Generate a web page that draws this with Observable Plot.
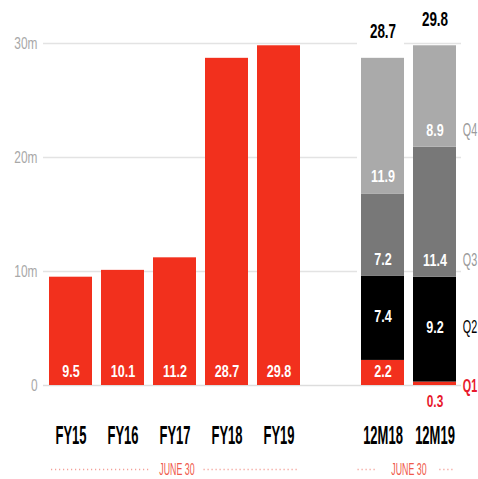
<!DOCTYPE html>
<html>
<head>
<meta charset="utf-8">
<script src="https://cdn.jsdelivr.net/npm/d3@7"></script>
<script src="https://cdn.jsdelivr.net/npm/@observablehq/plot@0.6"></script>
<style>
  html, body { margin: 0; padding: 0; background: #fff; }
  svg text { font-family: "Liberation Sans", Arial, sans-serif; }
</style>
</head>
<body>
<div id="chart"></div>
<script>
// Annual totals (financial year ending June 30), millions
const years = ["FY15", "FY16", "FY17", "FY18", "FY19"];
const yearValues = [9.5, 10.1, 11.2, 28.7, 29.8];

// Twelve-month periods split by quarter, millions
const periods = ["12M18", "12M19"];
const quarters = ["Q1", "Q2", "Q3", "Q4"];
const q1 = [2.2, 0.3];
const q2 = [7.4, 9.2];
const q3 = [7.2, 11.4];
const q4 = [11.9, 8.9];
const periodTotals = [28.7, 29.8];

const yTicks = [0, 10, 20, 30];
const yTickLabels = ["0", "10m", "20m", "30m"];
const footer = "JUNE 30";

const GAP = "gap";
const domain = [...years, GAP, ...periods];

const RED = "#f2301d";
const colors = {Q1: RED, Q2: "#000000", Q3: "#787878", Q4: "#aaaaaa"};
const qLabelColors = {Q1: "#e8192c", Q2: "#000000", Q3: "#9a9a9a", Q4: "#9a9a9a"};

const yearRows = years.map((x, i) => ({x, value: yearValues[i]}));
const qSeries = [q1, q2, q3, q4];
const stackRows = [];
periods.forEach((p, pi) => {
  let base = 0;
  quarters.forEach((q, qi) => {
    const v = qSeries[qi][pi];
    stackRows.push({x: p, q, value: v, y1: base, y2: base + v});
    base += v;
  });
});
const totalRows = periods.map((x, i) => ({x, value: periodTotals[i]}));

const lastPeriod = periods[periods.length - 1];
const q1Big = stackRows.filter(d => d.q === "Q1" && d.value >= 1);
const q1Small = stackRows.filter(d => d.q === "Q1" && d.value < 1);
const q2Rows = stackRows.filter(d => d.q === "Q2");
const q34Rows = stackRows.filter(d => d.q === "Q3" || d.q === "Q4");
const right = stackRows.filter(d => d.x === lastPeriod);

const fmt = d => d.value.toFixed(1);
const mid = d => (d.y1 + d.y2) / 2;

// horizontal condensation per text mark (in mark order)
const squeeze = [];
function txt(data, opts, sx) { squeeze.push(sx); return Plot.text(data, opts); }

const dotStyle = {y: d => d, dy: 84, stroke: "#f3a199", strokeWidth: 1.3, strokeDasharray: "1.2,2.8"};
const whiteLabel = {fill: "#fff", fontSize: 17, fontWeight: "bold"};

const marks = [
  Plot.ruleY(yTicks.filter(d => d > 0), {stroke: "#e3e3e3", strokeWidth: 1.5}),
  Plot.barY([{x: "12M18", v: 31.5}], {x: "x", y: "v", fill: "#ffffff", insetLeft: -4, insetRight: 0}),
  Plot.ruleY([0], {stroke: "#dddddd", strokeWidth: 1.5}),
  Plot.barY(yearRows, {x: "x", y: "value", fill: RED}),
  Plot.barY(stackRows, {x: "x", y1: "y1", y2: "y2", fill: d => colors[d.q]}),
  // footer dotted lines
  Plot.ruleY([0], {...dotStyle, x1: () => "FY15", x2: () => "FY16", insetLeft: 2, insetRight: -5}),
  Plot.ruleY([0], {...dotStyle, x1: () => "FY18", x2: () => "FY19", insetLeft: -1.5, insetRight: 1}),
  Plot.ruleY([0], {...dotStyle, x1: () => "12M18", x2: () => "12M18", insetLeft: -3.5, insetRight: 26.5}),
  Plot.ruleY([0], {...dotStyle, x1: () => "12M19", x2: () => "12M19", insetLeft: 26.3, insetRight: 1.7}),
  // y tick labels
  txt(yTicks, {y: d => d, text: (d, i) => yTickLabels[i], frameAnchor: "left", textAnchor: "end", dx: -6, fill: "#a8a8a8", fontSize: 17}, 0.7),
  // x category labels
  txt(domain.filter(d => d !== GAP), {x: d => d, y: 0, text: d => d, dy: 50, fill: "#000", fontSize: 25, fontWeight: "bold"}, 0.52),
  // values on annual bars
  txt(yearRows, {x: "x", y: 0, text: fmt, dy: -14, ...whiteLabel}, 0.74),
  // values on stacked segments
  txt(q1Big, {x: "x", y: 0, text: fmt, dy: -14, ...whiteLabel}, 0.74),
  txt(q2Rows, {x: "x", y: mid, text: fmt, dy: -2, ...whiteLabel}, 0.74),
  txt(q34Rows, {x: "x", y: "y1", text: fmt, dy: -17, ...whiteLabel}, 0.74),
  txt(q1Small, {x: "x", y: 0, text: fmt, dy: 16, fill: "#e8192c", fontSize: 17, fontWeight: "bold"}, 0.7),
  // totals above stacks
  txt(totalRows, {x: "x", y: "value", text: fmt, dy: -27, fill: "#000", fontSize: 21, fontWeight: "bold"}, 0.64),
  // quarter labels on the right
  txt(right.filter(d => d.q === "Q1"), {x: "x", y: 0, text: "q", dx: 35, dy: 1, fill: d => qLabelColors[d.q], fontSize: 18, fontWeight: "bold"}, 0.6),
  txt(right.filter(d => d.q === "Q2"), {x: "x", y: mid, text: "q", dx: 35, dy: -2, fill: d => qLabelColors[d.q], fontSize: 18}, 0.6),
  txt(right.filter(d => d.q === "Q3" || d.q === "Q4"), {x: "x", y: "y1", text: "q", dx: 35, dy: -17, fill: d => qLabelColors[d.q], fontSize: 18}, 0.6),
  // footer text
  txt([footer], {x: () => "FY17", y: 0, dy: 84, dx: 2, text: d => d, fill: "#ef5a4c", fontSize: 17}, 0.52),
  txt([footer], {x: () => "12M18", y: 0, dy: 84, dx: 26, text: d => d, fill: "#ef5a4c", fontSize: 17}, 0.52)
];

const chart = Plot.plot({
  width: 478,
  height: 479,
  marginLeft: 43,
  marginRight: 17,
  marginTop: 43,
  marginBottom: 94,
  x: {domain, type: "band", paddingInner: 0.177, paddingOuter: 0.09, axis: null},
  y: {domain: [0, 30], axis: null},
  style: {background: "#fff", overflow: "visible"},
  marks
});

// condense text horizontally around each text's anchor point (local origin)
const groups = chart.querySelectorAll('g[aria-label="text"]');
groups.forEach((g, gi) => {
  const sx = squeeze[gi] ?? 1;
  g.querySelectorAll("text").forEach(el => {
    const t = el.getAttribute("transform") || "";
    el.setAttribute("transform", `${t} scale(${sx},1)`);
  });
});
document.getElementById("chart").appendChild(chart);
</script>
</body>
</html>
